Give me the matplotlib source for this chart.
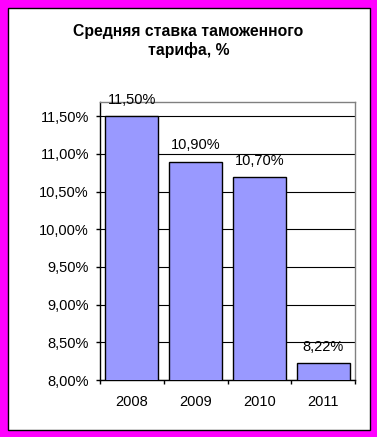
import matplotlib
matplotlib.use("Agg")
import matplotlib.pyplot as plt
from matplotlib.patches import Rectangle
from matplotlib.ticker import FuncFormatter

years = ["2008", "2009", "2010", "2011"]
rates = [11.50, 10.90, 10.70, 8.22]
y_ticks = [8.0, 8.5, 9.0, 9.5, 10.0, 10.5, 11.0, 11.5]

plt.rcParams['font.family'] = ['Liberation Sans', 'DejaVu Sans']


def pct(v, pos=None):
    return ("%.2f%%" % v).replace(".", ",")


fig = plt.figure(figsize=(3.77, 4.37), dpi=100)
fig.patch.set_facecolor("white")

# magenta frame with thin black inner line
fig.patches.append(Rectangle((0, 0), 1, 1, transform=fig.transFigure,
                             facecolor="#FF00FF", edgecolor="none", zorder=-3))
fig.patches.append(Rectangle((7.5 / 377, 7.5 / 437), 362 / 377, 422 / 437,
                             transform=fig.transFigure, facecolor="white",
                             edgecolor="black", linewidth=1.0, zorder=-2))

ax = fig.add_axes([100 / 377, 1 - 380 / 437, 255 / 377, 278 / 437])
ax.set_facecolor("white")

x = range(len(years))
ax.bar(x, rates, width=0.83, bottom=0, color="#9999FF", edgecolor="black",
       linewidth=1.0, zorder=3)
ax.set_ylim(8.0, 11.69)
ax.set_xlim(-0.5, len(years) - 0.5)

for i, v in enumerate(rates):
    ax.annotate(pct(v), (i, v), xytext=(0, 6.5), textcoords="offset points",
                ha="center", va="bottom", fontsize=10.5, zorder=4,
                annotation_clip=False)

ax.set_yticks(y_ticks)
ax.yaxis.set_major_formatter(FuncFormatter(pct))
ax.set_xticks(list(x))
ax.set_xticklabels(years)
ax.set_xticks([i - 0.5 for i in range(len(years) + 1)], minor=True)
ax.tick_params(axis="x", which="major", length=0, pad=11, labelsize=10.5)
ax.tick_params(axis="x", which="minor", length=3, width=1, direction="out")
ax.tick_params(axis="y", length=3, width=1, pad=5, labelsize=10.5)
ax.grid(axis="y", color="black", linewidth=0.8, zorder=0)
ax.set_axisbelow(True)

for side in ["left", "bottom"]:
    ax.spines[side].set_color("black")
    ax.spines[side].set_linewidth(1.0)
for side in ["top", "right"]:
    ax.spines[side].set_color("#808080")
    ax.spines[side].set_linewidth(1.0)

fig.text(0.5, 1 - 41 / 437, "Средняя ставка таможенного\nтарифа, %",
         ha="center", va="center", fontsize=11.3, fontweight="bold",
         linespacing=1.3)

fig.savefig("out.png", dpi=100)
